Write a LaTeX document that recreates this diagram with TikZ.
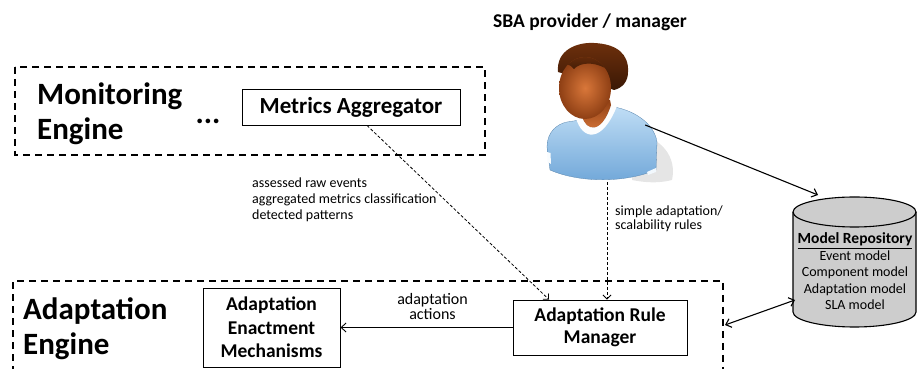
\documentclass[tikz,border=0pt]{standalone}
\usepackage{fontspec}
\setmainfont{Carlito}
\usepackage{xcolor}
\usetikzlibrary{shapes.geometric, arrows.meta, positioning, calc}

\definecolor{shirtlight}{HTML}{BFDDF5}
\definecolor{shirtdark}{HTML}{6FA6D8}
\definecolor{skinlight}{HTML}{D9773A}
\definecolor{skindark}{HTML}{8E3F14}
\definecolor{hairlight}{HTML}{6E300C}
\definecolor{hairdark}{HTML}{3A1805}
\definecolor{repogray}{HTML}{CDCDCD}

\tikzstyle{engine} = [draw=black, line width=1.6pt, dash pattern=on 7pt off 5pt]
\tikzstyle{enginename} = [font=\fontsize{31}{35}\selectfont\bfseries, align=left, anchor=west, inner sep=0pt]
\tikzstyle{component} = [rectangle, draw=black, line width=0.9pt, text centered, align=center, inner sep=0pt, fill=white]
\tikzstyle{flow} = [densely dashed, line width=0.8pt, -{Straight Barb[length=4pt,width=8pt]}]
\tikzstyle{link} = [line width=1.1pt, -{Straight Barb[length=5pt,width=9pt]}]
\tikzstyle{flowtext} = [font=\fontsize{14}{16}\selectfont, inner sep=0pt]

\begin{document}
\begin{tikzpicture}[x=1pt, y=1pt]
    \useasboundingbox (0,0) rectangle (918,369);

    % monitoring side
    \draw [engine] (15,302) rectangle (485,214);
    \node (mon) [enginename] at (37,255) {Monitoring\\Engine};
    \node (dots) [font=\fontsize{31}{35}\selectfont\bfseries, inner sep=0pt] at (208,248) {...};
    \node (metrics) [component, minimum width=218pt, minimum height=36pt, font=\fontsize{23}{27}\selectfont\bfseries] at (351,262) {Metrics Aggregator};

    % adaptation side, box runs off the bottom
    \draw [engine] (13,-4) -- (13,88) -- (723,88) -- (723,-4);
    \node (ada) [enginename] at (23,40) {Adaptation\\Engine};
    \node (enact) [component, minimum width=137pt, minimum height=79pt, font=\fontsize{19.5}{23.5}\selectfont\bfseries] at (271.5,41.5) {Adaptation\\Enactment\\Mechanisms};
    \node (rule) [component, minimum width=174pt, minimum height=55pt, font=\fontsize{19.5}{22.5}\selectfont\bfseries] at (600,41.5) {Adaptation Rule\\Manager};

    % provider figure
    \node (title) [font=\fontsize{19.5}{22}\selectfont\bfseries, inner sep=0pt] at (590,347) {SBA provider / manager};
    \node (user) [minimum width=110pt, minimum height=140pt, inner sep=0pt] at (602,257) {};
    \begin{scope}[shift={(user.center)}]
        % shadow
        \fill [black!10] (30,-20) .. controls (60,-25) and (75,-45) .. (70,-68) .. controls (55,-72) and (40,-70) .. (30,-68) -- cycle;
        % shirt
        \shade [top color=shirtlight, bottom color=shirtdark, draw=shirtdark!80!black, line width=0.3pt]
            (-52,-58) -- (-55,-35) .. controls (-55,-20) and (-45,-12) .. (-35,-10)
            -- (-22,-8) -- (12,5) .. controls (30,2) and (52,-10) .. (55,-30)
            -- (54,-58) .. controls (20,-72) and (-25,-70) .. cycle;
        \fill [white!90!shirtlight] (-55,-40) -- (-54.5,-50) -- (-51,-52) -- (-51.5,-41) -- cycle;
        \fill [white!80!shirtlight] (45,-60) -- (54,-56) -- (54,-60) -- (46,-63) -- cycle;
        % collar and neck
        \fill [white!95!shirtlight] (-26,-6) .. controls (-20,-28) and (0,-32) .. (15,6) -- (9,7) .. controls (0,-22) and (-16,-20) .. (-20,-4) -- cycle;
        \shade [top color=skindark, bottom color=skinlight] (-20,-4) .. controls (-16,-20) and (0,-22) .. (9,7) -- (8,12) -- (-20,12) -- cycle;
        % head: hair cap, face, fringe
        \shade [top color=hairlight, bottom color=hairdark]
            (-44,40) .. controls (-46,62) and (-25,70) .. (-8,69)
            .. controls (15,68) and (27,58) .. (26,40)
            .. controls (26,30) and (20,24) .. (12,22) -- (-10,30) -- cycle;
        \shade [inner color=skinlight, outer color=skindark] (-17,24) ellipse [x radius=26, y radius=31];
        \begin{scope}
            \clip (-17,24) ellipse [x radius=26, y radius=31];
            \shade [top color=hairlight, bottom color=hairdark] (-4,58) .. controls (-30,60) and (-45,52) .. (-44,46) .. controls (-38,50) and (-32,48) .. (-28,43) .. controls (-22,50) and (-5,52) .. (12,38) -- (12,60) -- cycle;
        \end{scope}
    \end{scope}

    % model repository
    \filldraw [fill=repogray, draw=black, line width=1.1pt]
        (793,157) -- (793,57) arc [start angle=180, end angle=360, x radius=61.5, y radius=15]
        -- (916,157) arc [start angle=0, end angle=180, x radius=61.5, y radius=15] -- cycle;
    \draw [line width=1.1pt] (793,157) arc [start angle=180, end angle=360, x radius=61.5, y radius=15];
    \node (repo) [align=center, inner sep=0pt, font=\fontsize{14}{16.5}\selectfont] at (855,97.5)
        {{\fontsize{15.5}{16}\selectfont\bfseries\underline{Model Repository}}\\Event model\\Component model\\Adaptation model\\SLA model};
    \coordinate (repotop) at (818,174);
    \coordinate (repoleft) at (795,69);
    \coordinate (adaedge) at (725,44);

    % connectors
    \draw [flow] ([xshift=16pt]metrics.south) -- ([xshift=-51pt]rule.north);
    \draw [flow] ([xshift=5pt]user.south) -- ([xshift=7pt]rule.north);
    \draw [link, line width=0.9pt] (rule.west) -- node[above=7pt, xshift=6pt, align=center, font=\fontsize{16}{15}\selectfont, inner sep=0pt] {adaptation\\actions} (enact.east);
    \draw [link] ([shift={(-12pt,-13pt)}]user.east) -- (repotop);
    \draw [link, {Straight Barb[length=5pt,width=9pt]}-{Straight Barb[length=5pt,width=9pt]}] (adaedge) -- (repoleft);

    \node (events) [flowtext, anchor=west, align=left] at (252,169) {assessed raw events\\aggregated metrics classification\\detected patterns};
    \node (simple) [flowtext, anchor=west, align=left, font=\fontsize{14}{14}\selectfont] at (615,150.5) {simple adaptation/\\scalability rules};
\end{tikzpicture}
\end{document}
